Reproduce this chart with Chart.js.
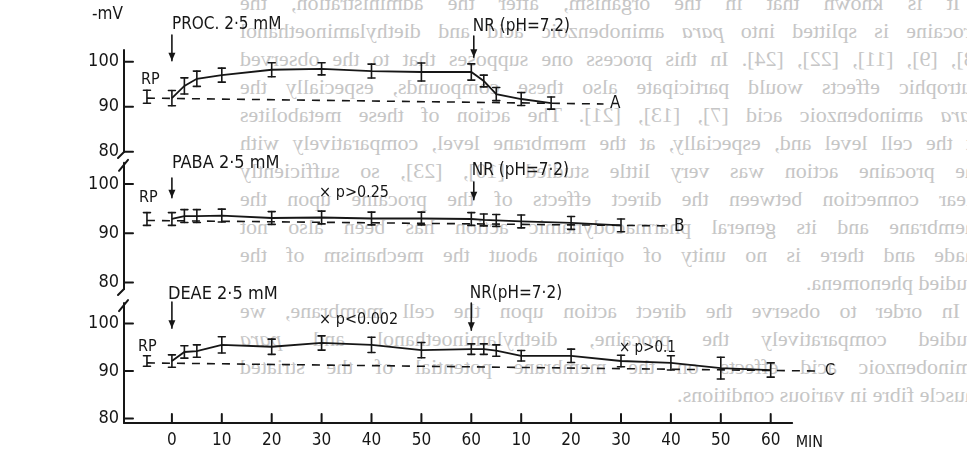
<!DOCTYPE html>
<html lang="en">
<head>
<meta charset="UTF-8">
<title>Membrane potential - PROC, PABA, DEAE</title>
<script src="https://cdn.jsdelivr.net/npm/chart.js@4.4.1/dist/chart.umd.min.js"></script>
<style>
  html, body { margin: 0; padding: 0; background: #fff; }
  #wrap { position: relative; width: 967px; height: 456px; overflow: hidden; }
  /* faint text of the reverse page showing through the scan */
  #bleed {
    position: absolute; left: 240px; top: -11px; width: 742px;
    transform: scaleX(-1);
    font-family: "Liberation Serif", serif; font-size: 22px; line-height: 28px;
    color: #c6c6c6;
  }
  #bleed div { text-align: justify; text-align-last: justify; white-space: nowrap; }
  #bleed .last { text-align-last: left; }
  #bleed .ind { padding-left: 22px; }
  canvas { position: absolute; left: 0; top: 0; }
</style>
</head>
<body>
<div id="wrap">
  <div id="bleed">
    <div class="ind">It is known that in the organism, after the administration, the</div>
    <div>procaine is splitted into <i>para</i> aminobenzoic acid and diethylaminoethanol</div>
    <div>[8], [9], [11], [22], [24]. In this process one supposes that to the observed</div>
    <div>eutrophic effects would participate also these compounds, especially the</div>
    <div><i>para</i> aminobenzoic acid [7], [13], [21]. The action of these metabolites</div>
    <div>at the cell level and, especially, at the membrane level, comparatively with</div>
    <div>the procaine action was very little studied [10], [23], so sufficiently</div>
    <div>clear connection between the direct effects of the procaine upon the</div>
    <div>membrane and its general pharmacodynamic action has been also not</div>
    <div>made and there is no unity of opinion about the mechanism of the</div>
    <div class="last">studied phenomena.</div>
    <div class="ind">In order to observe the direct action upon the cell membrane, we</div>
    <div>studied comparatively the procaine, diethylaminoethanol and <i>para</i></div>
    <div>aminobenzoic acid effects on the membrane potential of the striated</div>
    <div class="last">muscle fibre in various conditions.</div>
  </div>
  <canvas id="grafico" width="967" height="456"></canvas>
</div>

<script>
// time axis (min); after NR the clock restarts, so 70..120 are labelled 10..60
const xTicks = [0, 10, 20, 30, 40, 50, 60, 70, 80, 90, 100, 110, 120];
const xTickLabels = ["0", "10", "20", "30", "40", "50", "60", "10", "20", "30", "40", "50", "60"];
const yTicks = [80, 90, 100];

// resting potential before the drug
const rpTime = -5;
const rpValues = [92.2, 92.9, 92.1];
const rpErr = [1.45, 1.3, 1.1];

// A: procaine 2.5 mM
const timeA = [0, 2.5, 5, 10, 20, 30, 40, 50, 60, 62.5, 65, 70, 76];
const procaine = [91.9, 94.6, 96.2, 97.0, 98.2, 98.4, 97.9, 97.7, 97.7, 95.7, 92.8, 91.7, 90.8];
const procaineErr = [1.7, 1.8, 1.7, 1.55, 1.55, 1.35, 1.55, 2.0, 1.8, 1.3, 1.45, 1.45, 1.35];
const baseTimeA = [-5, 86.5];
const baseA = [91.9, 90.6];

// B: PABA 2.5 mM
const timeB = [0, 2.5, 5, 10, 20, 30, 40, 50, 60, 62.5, 65, 70, 80, 90];
const paba = [92.9, 93.5, 93.5, 93.6, 93.1, 93.2, 93.0, 93.0, 92.9, 92.7, 92.6, 92.4, 92.1, 91.6];
const pabaErr = [1.3, 1.3, 1.3, 1.3, 1.3, 1.3, 1.3, 1.3, 1.3, 1.2, 1.2, 1.3, 1.3, 1.3];
const baseTimeB = [-5, 99.5];
const baseB = [92.6, 91.5];

// C: DEAE 2.5 mM
const timeC = [0, 2.5, 5, 10, 20, 30, 40, 50, 60, 62.5, 65, 70, 80, 90, 100, 110, 120];
const deae = [92.1, 94.0, 94.2, 95.5, 95.1, 95.9, 95.5, 94.4, 94.6, 94.6, 94.3, 93.2, 93.2, 92.1, 91.7, 90.6, 90.2];
const deaeErr = [1.3, 1.3, 1.3, 1.7, 1.6, 1.5, 1.6, 1.6, 1.1, 1.1, 1.2, 1.1, 1.4, 1.2, 1.5, 2.3, 1.5];
const baseTimeC = [-5, 129];
const baseC = [91.7, 90.0];

const INK = "#161616";
const FONT = "'DejaVu Sans Condensed', 'DejaVu Sans', sans-serif";

function pontos(tempos, valores) {
  return tempos.map((t, i) => ({ x: t, y: valores[i] }));
}

function serie(tempos, valores, erros, eixo) {
  return {
    data: pontos(tempos, valores), yAxisID: eixo, errors: erros,
    borderColor: INK, borderWidth: 1.8, pointRadius: 0, tension: 0, fill: false
  };
}

function linhaBase(tempos, valores, eixo) {
  return {
    data: pontos(tempos, valores), yAxisID: eixo,
    borderColor: INK, borderWidth: 1.6, borderDash: [8, 7], pointRadius: 0, fill: false
  };
}

function pontoRP(i, eixo) {
  return {
    data: [{ x: rpTime, y: rpValues[i] }], yAxisID: eixo, errors: [rpErr[i]],
    showLine: false, pointRadius: 0
  };
}

function eixoY(min, max, peso) {
  return {
    type: "linear", position: "left", stack: "paineis", stackWeight: peso,
    min: min, max: max, offset: false,
    grid: { display: false, drawTicks: false }, border: { display: false },
    afterBuildTicks: (s) => { s.ticks = yTicks.map((v) => ({ value: v })); },
    ticks: { color: INK, font: { family: FONT, size: 18 }, padding: 5 },
    afterFit: (s) => { s.width = 124; }
  };
}

// annotations: [axis, time, value, text, font size]
const textos = [
  ["y1", -16, 110.4, "-mV", 17],
  ["y1", 0, 108.2, "PROC. 2·5 mM", 17],
  ["y1", 60.3, 107.7, "NR (pH=7.2)", 17],
  ["y1", -6.2, 95.9, "RP", 16],
  ["y1", 87.8, 90.6, "A", 17],
  ["y2", 0, 104.1, "PABA 2·5 mM", 18],
  ["y2", -6.6, 97.2, "RP", 16],
  ["y2", 29.5, 98.2, "× p>0.25", 16],
  ["y2", 60.1, 102.8, "NR (pH=7·2)", 17],
  ["y2", 100.6, 91.3, "B", 17],
  ["y3", -0.8, 106.2, "DEAE 2·5 mM", 18],
  ["y3", 59.7, 106.4, "NR(pH=7·2)", 17],
  ["y3", 29.5, 100.7, "× p<0.002", 16],
  ["y3", -6.8, 95.05, "RP", 16],
  ["y3", 89.6, 94.85, "× p>0.1", 15],
  ["y3", 130.9, 90.0, "C", 16]
];

// arrows: [axis, time, from value, to value]
const setas = [
  ["y1", 0, 105.9, 100.2], ["y1", 60.5, 105.7, 101.0],
  ["y2", 0, 101.2, 97.2], ["y2", 60.5, 100.4, 96.8],
  ["y3", 0, 104.5, 99.0], ["y3", 60, 104.3, 98.6]
];

const eixos = ["y1", "y2", "y3"];
const topoEixo = [102.6, 104.3, 104.3];

const papel = {
  id: "papel",
  afterDraw(chart) {
    const { ctx, scales } = chart;
    const sx = scales.x;
    const ax = sx.left;
    const traco = (x1, y1, x2, y2) => {
      ctx.beginPath(); ctx.moveTo(x1, y1); ctx.lineTo(x2, y2); ctx.stroke();
    };
    ctx.save();
    ctx.strokeStyle = INK;
    ctx.fillStyle = INK;
    ctx.lineCap = "round";

    // error bars
    ctx.lineWidth = 1.6;
    chart.data.datasets.forEach((ds) => {
      if (!ds.errors) return;
      const sy = scales[ds.yAxisID];
      ds.data.forEach((p, i) => {
        const px = sx.getPixelForValue(p.x);
        const a = sy.getPixelForValue(p.y + ds.errors[i]);
        const b = sy.getPixelForValue(p.y - ds.errors[i]);
        traco(px, a, px, b);
        traco(px - 3.5, a, px + 3.5, a);
        traco(px - 3.5, b, px + 3.5, b);
      });
    });

    // broken vertical axis with inner ticks
    ctx.lineWidth = 2;
    eixos.forEach((id, k) => {
      const sy = scales[id];
      const topo = sy.getPixelForValue(topoEixo[k]);
      const fundo = k === 2 ? sy.bottom : sy.bottom - 3;
      traco(ax, topo, ax, fundo);
      if (k > 0) traco(ax - 5, topo + 8, ax + 4, topo - 3);
      if (k < 2) traco(ax, fundo, ax - 6, fundo + 6);
      yTicks.forEach((v) => {
        const py = sy.getPixelForValue(v);
        traco(ax, py, ax + 9, py);
      });
    });

    // time axis
    const base = scales.y3.bottom;
    traco(ax, base, sx.getPixelForValue(124.3), base);
    xTicks.forEach((t) => {
      const px = sx.getPixelForValue(t);
      traco(px, base, px, base - 9);
    });
    ctx.font = "16px " + FONT;
    ctx.textBaseline = "middle";
    ctx.textAlign = "left";
    ctx.fillText("MIN", sx.getPixelForValue(125), base + 20);

    // arrows
    ctx.lineWidth = 1.6;
    setas.forEach(([id, t, de, ate]) => {
      const sy = scales[id];
      const px = sx.getPixelForValue(t);
      const y1 = sy.getPixelForValue(de);
      const y2 = sy.getPixelForValue(ate);
      traco(px, y1, px, y2);
      ctx.beginPath();
      ctx.moveTo(px - 3.5, y2 - 8);
      ctx.lineTo(px, y2);
      ctx.lineTo(px + 3.5, y2 - 8);
      ctx.closePath();
      ctx.fill();
    });

    // labels
    textos.forEach(([id, t, v, txt, tam]) => {
      ctx.font = tam + "px " + FONT;
      ctx.fillText(txt, sx.getPixelForValue(t), scales[id].getPixelForValue(v));
    });
    ctx.restore();
  }
};

new Chart(document.getElementById("grafico"), {
  type: "line",
  data: {
    datasets: [
      serie(timeA, procaine, procaineErr, "y1"),
      linhaBase(baseTimeA, baseA, "y1"),
      pontoRP(0, "y1"),
      serie(timeB, paba, pabaErr, "y2"),
      linhaBase(baseTimeB, baseB, "y2"),
      pontoRP(1, "y2"),
      serie(timeC, deae, deaeErr, "y3"),
      linhaBase(baseTimeC, baseC, "y3"),
      pontoRP(2, "y3")
    ]
  },
  options: {
    responsive: false,
    animation: false,
    layout: { padding: { top: 22, right: 96, bottom: 0, left: 0 } },
    plugins: { legend: { display: false }, tooltip: { enabled: false }, title: { display: false } },
    scales: {
      x: {
        type: "linear", min: -9.6, max: 140.1,
        grid: { display: false, drawTicks: false }, border: { display: false },
        afterBuildTicks: (s) => { s.ticks = xTicks.map((v) => ({ value: v })); },
        ticks: {
          color: INK, font: { family: FONT, size: 17 }, padding: 7,
          maxRotation: 0, autoSkip: false,
          callback: (v, i) => xTickLabels[i]
        },
        afterFit: (s) => { s.height = 33; }
      },
      // stacked panels: the last one listed sits on top
      y3: eixoY(79.05, 106.63, 131),
      y2: eixoY(78.09, 105.88, 137),
      y1: eixoY(79.27, 108.8, 133)
    }
  },
  plugins: [papel]
});
</script>
</body>
</html>
